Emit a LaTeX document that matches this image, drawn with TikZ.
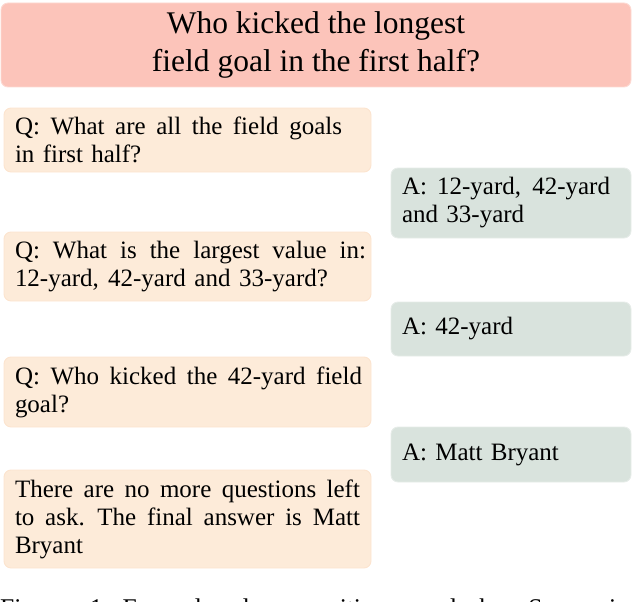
\documentclass[tikz,border=0pt]{standalone}
\usepackage{fontspec}
\setmainfont{Liberation Serif}
\definecolor{titlefill}{HTML}{FCC4BA}
\definecolor{titledraw}{HTML}{FDD9D2}
\definecolor{qfill}{HTML}{FDEBD9}
\definecolor{qdraw}{HTML}{FCE4CF}
\definecolor{afill}{HTML}{D9E3DD}
\definecolor{adraw}{HTML}{E6ECE8}
\newcommand{\jline}[2]{\leavevmode\hbox to #1{\spaceskip=0.25em plus 1fil\relax #2}}
\tikzset{
  boxbase/.style={rounded corners=7pt, line width=0.9pt, inner sep=0pt},
  titlebox/.style={boxbase, fill=titlefill, draw=titledraw, align=center,
    minimum width=630pt, minimum height=84pt, font=\fontsize{31.5}{38.5}\selectfont},
  qbox/.style={boxbase, fill=qfill, draw=qdraw, minimum width=367pt,
    text width=345pt, align=left, font=\fontsize{25}{28}\selectfont},
  abox/.style={boxbase, fill=afill, draw=adraw, minimum width=240pt,
    text width=218pt, align=left, font=\fontsize{25}{28}\selectfont},
  captext/.style={anchor=base west, inner sep=0pt, align=left, text width=632pt,
    font=\fontsize{25.5}{28}\selectfont}
}
\begin{document}
\begin{tikzpicture}[x=1pt,y=-1pt]
\useasboundingbox (0,0) rectangle (632,602);
\node[titlebox] (title) at (316,45) {Who kicked the longest\\field goal in the first half?};
\node[qbox, minimum height=64pt] (q1) at (187.5,140)
  {\jline{327pt}{Q: What are all the field goals}\\in first half?};
\node[abox, minimum height=70pt] (a1) at (511,203)
  {\jline{208pt}{A: 12-yard, 42-yard}\\and 33-yard};
\node[qbox, minimum height=69pt] (q2) at (187.5,266.5)
  {\jline{351pt}{Q: What is the largest value in:}\\\jline{313pt}{12-yard, 42-yard and 33-yard?}};
\node[abox, minimum height=54pt] (a2) at (511,329) {A: 42-yard};
\node[qbox, minimum height=70pt] (q3) at (187.5,392)
  {\jline{347pt}{Q: Who kicked the 42-yard field}\\goal?};
\node[abox, minimum height=55pt] (a3) at (511,454.5) {A: Matt Bryant};
\node[qbox, minimum height=98pt] (fin) at (187.5,519)
  {\jline{345pt}{There are no more questions left}\\\jline{345pt}{to ask. The final answer is Matt}\\Bryant};
\clip (0,0) rectangle (632,602);
\node[captext] (cap) at (0,616) {\jline{640pt}{Figure 1: Example decomposition used by Successive}};
\end{tikzpicture}
\end{document}
